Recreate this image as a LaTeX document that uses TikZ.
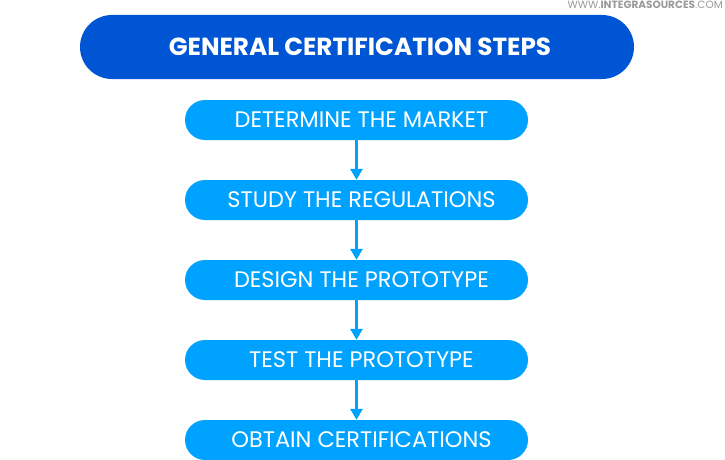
\documentclass[tikz,border=0pt]{standalone}
\usepackage{fontspec}
\setmainfont{Poppins}
\usetikzlibrary{arrows.meta}
\definecolor{titleblue}{HTML}{0055D4}
\definecolor{stepblue}{HTML}{00A2FF}
\definecolor{markgray}{HTML}{9A9A9A}
\tikzset{
  titlebox/.style={fill=titleblue, rounded corners=32pt, minimum width=554pt, minimum height=64pt, inner sep=0pt, text=white, font=\fontsize{24.7}{24.7}\selectfont\bfseries, execute at begin node=\hspace*{6pt}},
  stepbox/.style={fill=stepblue, rounded corners=20pt, minimum width=343pt, minimum height=40pt, inner sep=0pt, text=white, font=\fontsize{22.5}{22.5}\selectfont, execute at begin node=\hspace*{10pt}},
  flow/.style={stepblue, line width=3.5pt, -{Triangle[width=12pt,length=11pt]}, shorten <=-1pt}
}
\begin{document}
\begin{tikzpicture}[x=1pt,y=-1pt]
\useasboundingbox (0,0) rectangle (725,460);
\node[titlebox] (t) at (357,47) {GENERAL CERTIFICATION STEPS};
\node[stepbox] (s1) at (356.5,120) {DETERMINE THE MARKET};
\node[stepbox] (s2) at (356.5,200) {STUDY THE REGULATIONS};
\node[stepbox] (s3) at (356.5,280) {DESIGN THE PROTOTYPE};
\node[stepbox] (s4) at (356.5,360) {TEST THE PROTOTYPE};
\node[stepbox] (s5) at (356.5,440) {OBTAIN CERTIFICATIONS};
\draw[flow] (s1) -- (s2);
\draw[flow] (s2) -- (s3);
\draw[flow] (s3) -- (s4);
\draw[flow] (s4) -- (s5);
\node[anchor=east, inner sep=0pt, text=markgray, font=\fontsize{10.5}{10.5}\selectfont] (wm) at (723,4.5) {WWW.\textbf{INTEGRASOURCES}.COM};
\end{tikzpicture}
\end{document}
